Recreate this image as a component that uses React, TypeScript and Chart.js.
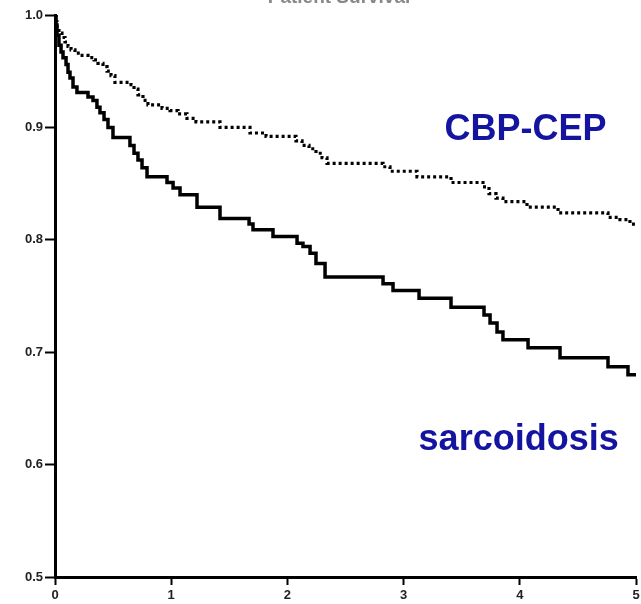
import React, { useEffect, useRef } from "react";
import { Chart, registerables } from "chart.js";

Chart.register(...registerables);

// Kaplan–Meier step data (time in years, survival fraction after the drop)
const sarcTimes = [0, 0.009, 0.017, 0.034, 0.052, 0.069, 0.095, 0.112, 0.129, 0.155, 0.189, 0.284, 0.327, 0.361, 0.387, 0.422, 0.456, 0.499, 0.645, 0.68, 0.714, 0.749, 0.792, 0.964, 1.016, 1.076, 1.222, 1.42, 1.67, 1.704, 1.876, 2.083, 2.134, 2.195, 2.246, 2.324, 2.823, 2.909, 3.133, 3.408, 3.692, 3.744, 3.804, 3.855, 4.071, 4.346, 4.759, 4.931, 5.0];
const sarcSurv = [1.0, 0.991, 0.982, 0.973, 0.967, 0.962, 0.956, 0.949, 0.944, 0.936, 0.931, 0.927, 0.924, 0.918, 0.913, 0.907, 0.9, 0.891, 0.884, 0.877, 0.871, 0.864, 0.856, 0.851, 0.846, 0.84, 0.829, 0.819, 0.814, 0.809, 0.803, 0.797, 0.794, 0.788, 0.779, 0.767, 0.761, 0.755, 0.748, 0.74, 0.733, 0.726, 0.718, 0.711, 0.704, 0.695, 0.687, 0.68, 0.68];

const cepTimes = [0, 0.009, 0.017, 0.034, 0.06, 0.086, 0.112, 0.138, 0.172, 0.215, 0.284, 0.336, 0.37, 0.413, 0.448, 0.482, 0.516, 0.654, 0.68, 0.714, 0.757, 0.8, 0.921, 0.99, 1.059, 1.136, 1.213, 1.42, 1.678, 1.816, 2.074, 2.126, 2.186, 2.246, 2.298, 2.341, 2.823, 2.883, 3.115, 3.408, 3.683, 3.735, 3.795, 3.855, 4.062, 4.329, 4.759, 4.862, 4.948, 5.0];
const cepSurv = [1.0, 0.994, 0.988, 0.984, 0.98, 0.976, 0.972, 0.969, 0.966, 0.964, 0.962, 0.96, 0.957, 0.954, 0.95, 0.946, 0.94, 0.938, 0.934, 0.929, 0.924, 0.92, 0.917, 0.915, 0.912, 0.908, 0.905, 0.9, 0.895, 0.892, 0.888, 0.884, 0.881, 0.877, 0.873, 0.868, 0.865, 0.861, 0.856, 0.851, 0.847, 0.841, 0.837, 0.834, 0.829, 0.824, 0.82, 0.818, 0.814, 0.813];

const yTicks = [0.5, 0.6, 0.7, 0.8, 0.9, 1.0];
const xTicks = [0, 1, 2, 3, 4, 5];
const seriesLabels = ["sarcoidosis", "CBP-CEP"];
const titleText = "Patient Survival";

export default function App() {
  const ref = useRef<HTMLCanvasElement | null>(null);

  useEffect(() => {
    const canvas = ref.current;
    if (!canvas) return;

    const labelPlugin = {
      id: "kmLabels",
      afterDatasetsDraw(chart: any) {
        const { ctx, scales } = chart;
        const xs = scales.x;
        const ys = scales.y;
        ctx.save();
        ctx.fillStyle = "#1414a0";
        ctx.font = "bold 36px Arial, 'Liberation Sans', sans-serif";
        ctx.textAlign = "center";
        ctx.textBaseline = "alphabetic";
        ctx.fillText(seriesLabels[1], xs.getPixelForValue(4.05), ys.getPixelForValue(0.889));
        ctx.fillText(seriesLabels[0], xs.getPixelForValue(3.99), ys.getPixelForValue(0.613));
        ctx.fillStyle = "#888";
        ctx.font = "bold 19px Arial, 'Liberation Sans', sans-serif";
        ctx.fillText(titleText, 339, 3);
        ctx.restore();
      },
    };

    const chart = new Chart(canvas, {
      type: "line",
      data: {
        datasets: [
          {
            label: seriesLabels[1],
            data: cepTimes.map((t, i) => ({ x: t, y: cepSurv[i] })),
            stepped: "before",
            borderColor: "#000",
            borderWidth: 3.2,
            borderDash: [3, 3],
            borderCapStyle: "butt",
            pointRadius: 0,
            fill: false,
          },
          {
            label: seriesLabels[0],
            data: sarcTimes.map((t, i) => ({ x: t, y: sarcSurv[i] })),
            stepped: "before",
            borderColor: "#000",
            borderWidth: 3.5,
            pointRadius: 0,
            fill: false,
          },
        ],
      },
      options: {
        responsive: false,
        animation: false,
        layout: { padding: { top: 15, right: 5, left: 0, bottom: 0 } },
        plugins: {
          legend: { display: false },
          tooltip: { enabled: false },
          title: { display: false },
        },
        scales: {
          x: {
            type: "linear",
            min: 0,
            max: 5,
            afterFit: (s: any) => {
              s.height = 27;
              s.paddingLeft = 0;
              s.paddingRight = 0;
            },
            afterBuildTicks: (s: any) => {
              s.ticks = xTicks.map((v) => ({ value: v }));
            },
            ticks: {
              color: "#222",
              font: { family: "Arial, 'Liberation Sans', sans-serif", size: 13, weight: "bold" },
              padding: 3,
              maxRotation: 0,
              autoSkip: false,
              callback: (v: any) => String(v),
            },
            grid: {
              display: true,
              drawOnChartArea: false,
              drawTicks: true,
              tickLength: 8,
              tickColor: "#000",
              tickWidth: 2,
            },
            border: { display: true, color: "#000", width: 3 },
          },
          y: {
            type: "linear",
            min: 0.5,
            max: 1.0,
            afterFit: (s: any) => {
              s.width = 55;
            },
            afterBuildTicks: (s: any) => {
              s.ticks = yTicks.map((v) => ({ value: v }));
            },
            ticks: {
              color: "#222",
              font: { family: "Arial, 'Liberation Sans', sans-serif", size: 13, weight: "bold" },
              padding: 2,
              autoSkip: false,
              callback: (v: any) => Number(v).toFixed(1),
            },
            grid: {
              display: true,
              drawOnChartArea: false,
              drawTicks: true,
              tickLength: 10,
              tickColor: "#000",
              tickWidth: 2,
            },
            border: { display: true, color: "#000", width: 3 },
          },
        },
      },
      plugins: [labelPlugin],
    } as any);

    return () => chart.destroy();
  }, []);

  return (
    <div style={{ position: "absolute", left: 0, top: 0, width: 641, height: 604, background: "#fff" }}>
      <canvas ref={ref} width={641} height={604} style={{ display: "block" }} />
    </div>
  );
}
